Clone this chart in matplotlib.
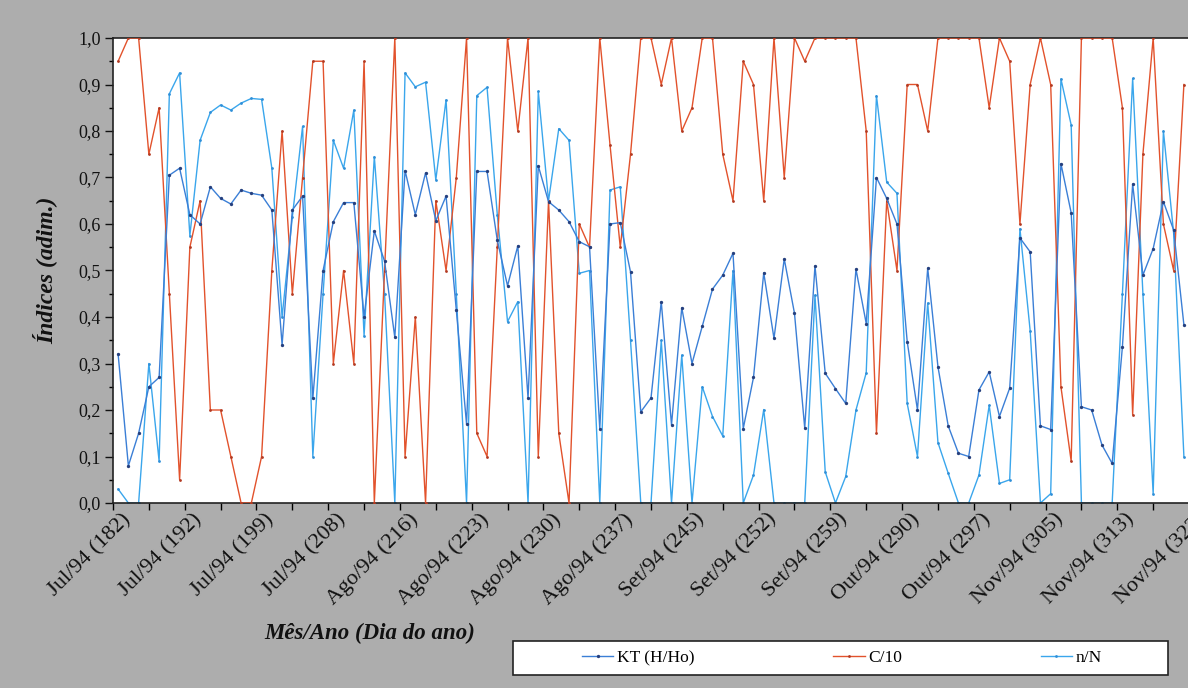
import matplotlib
matplotlib.use("Agg")
import matplotlib.pyplot as plt
from matplotlib.ticker import MultipleLocator, FuncFormatter, FixedLocator
from matplotlib.patches import Rectangle
import numpy as np

# ---------------- data ----------------
tick_labels = ["Jul/94 (182)", "Jul/94 (192)", "Jul/94 (199)", "Jul/94 (208)",
               "Ago/94 (216)", "Ago/94 (223)", "Ago/94 (230)", "Ago/94 (237)",
               "Set/94 (245)", "Set/94 (252)", "Set/94 (259)", "Out/94 (290)",
               "Out/94 (297)", "Nov/94 (305)", "Nov/94 (313)", "Nov/94 (322)"]
label_step = 7

kt = [0.32, 0.08, 0.15, 0.25, 0.27, 0.705, 0.72, 0.62, 0.60, 0.68,
      0.655, 0.643, 0.673, 0.666, 0.662, 0.63, 0.34, 0.63, 0.66, 0.225,
      0.50, 0.605, 0.646, 0.646, 0.40, 0.585, 0.52, 0.356, 0.715, 0.62,
      0.71, 0.607, 0.66, 0.415, 0.17, 0.713, 0.713, 0.565, 0.467, 0.553,
      0.225, 0.725, 0.648, 0.63, 0.605, 0.562, 0.551, 0.16, 0.60, 0.603,
      0.497, 0.196, 0.226, 0.433, 0.168, 0.42, 0.30, 0.38, 0.46, 0.49,
      0.537, 0.16, 0.27, 0.495, 0.354, 0.525, 0.408, 0.161, 0.51, 0.279,
      0.246, 0.214, 0.503, 0.386, 0.70, 0.655, 0.60, 0.347, 0.20, 0.505,
      0.293, 0.166, 0.107, 0.10, 0.243, 0.282, 0.186, 0.247, 0.57, 0.54,
      0.166, 0.158, 0.73, 0.624, 0.207, 0.20, 0.125, 0.085, 0.336, 0.686,
      0.49, 0.547, 0.648, 0.587, 0.383]

c10 = [0.95, 1.0, 1.0, 0.75, 0.85, 0.45, 0.05, 0.55, 0.65, 0.20,
       0.20, 0.10, 0.0, 0.0, 0.10, 0.50, 0.80, 0.45, 0.70, 0.95,
       0.95, 0.30, 0.50, 0.30, 0.95, 0.0, 0.50, 1.0, 0.10, 0.40,
       0.0, 0.65, 0.50, 0.70, 1.0, 0.15, 0.10, 0.55, 1.0, 0.80,
       1.0, 0.10, 0.65, 0.15, 0.0, 0.60, 0.55, 1.0, 0.77, 0.55,
       0.75, 1.0, 1.0, 0.90, 1.0, 0.80, 0.85, 1.0, 1.0, 0.75,
       0.65, 0.95, 0.90, 0.65, 1.0, 0.70, 1.0, 0.95, 1.0, 1.0,
       1.0, 1.0, 1.0, 0.80, 0.15, 0.65, 0.50, 0.90, 0.90, 0.80,
       1.0, 1.0, 1.0, 1.0, 1.0, 0.85, 1.0, 0.95, 0.60, 0.90,
       1.0, 0.90, 0.25, 0.09, 1.0, 1.0, 1.0, 1.0, 0.85, 0.19,
       0.75, 1.0, 0.60, 0.50, 0.90]

nN = [0.03, 0.0, 0.0, 0.30, 0.09, 0.88, 0.925, 0.575, 0.78, 0.84,
      0.856, 0.845, 0.86, 0.87, 0.868, 0.72, 0.40, 0.615, 0.81, 0.10,
      0.45, 0.78, 0.72, 0.845, 0.36, 0.745, 0.45, 0.0, 0.925, 0.895,
      0.905, 0.695, 0.867, 0.45, 0.0, 0.876, 0.894, 0.62, 0.39, 0.433,
      0.0, 0.885, 0.65, 0.805, 0.78, 0.494, 0.50, 0.0, 0.673, 0.68,
      0.35, 0.0, 0.0, 0.35, 0.0, 0.318, 0.0, 0.25, 0.186, 0.144,
      0.50, 0.0, 0.06, 0.201, 0.0, 0.0, 0.0, 0.0, 0.447, 0.067,
      0.0, 0.057, 0.20, 0.28, 0.876, 0.69, 0.666, 0.214, 0.10, 0.43,
      0.13, 0.064, 0.0, 0.0, 0.06, 0.21, 0.042, 0.05, 0.59, 0.37,
      0.0, 0.02, 0.912, 0.813, 0.0, 0.0, 0.0, 0.0, 0.45, 0.913,
      0.45, 0.02, 0.80, 0.58, 0.10]

# ---------------- figure ----------------
W, H = 1188, 688
fig = plt.figure(figsize=(W / 100, H / 100), dpi=100, facecolor="#adadad")
serif = ["Liberation Serif", "DejaVu Serif"]
plt.rcParams["font.family"] = serif

ax = fig.add_axes([113 / W, 1 - 503 / H, 1 - 113 / W, (503 - 38) / H])
ax.set_facecolor("white")

x = np.arange(len(kt))
c_kt = "#3b7fd6"
c_c10 = "#e2522c"
c_nn = "#3aa6ec"

ax.plot(x, nN, color=c_nn, lw=1.0, marker="o", ms=2.0, mfc="#2f8fd8", mec="none",
        label="n/N", zorder=2)
ax.plot(x, c10, color=c_c10, lw=1.0, marker="o", ms=2.0, mfc="#b23a22", mec="none",
        label="C/10", zorder=3)
ax.plot(x, kt, color=c_kt, lw=1.0, marker="o", ms=2.4, mfc="#26407e", mec="none",
        label="KT (H/Ho)", zorder=4)

ax.set_xlim(-0.5, 104.4)
ax.set_ylim(0, 1.0)

for s in ["top", "left", "bottom"]:
    ax.spines[s].set_color("#222222")
    ax.spines[s].set_linewidth(1.2)
ax.spines["right"].set_visible(False)

ax.yaxis.set_major_locator(MultipleLocator(0.1))
ax.yaxis.set_minor_locator(MultipleLocator(0.05))
ax.yaxis.set_major_formatter(FuncFormatter(lambda v, p: f"{v:.1f}".replace(".", ",")))
ax.tick_params(axis="y", which="major", direction="out", length=6, width=1,
               labelsize=13, pad=3, colors="#111111")
ax.tick_params(axis="y", which="minor", direction="out", length=3, width=1)

ax.xaxis.set_major_locator(FixedLocator(np.arange(-0.5, 105, 3.5)))
ax.tick_params(axis="x", which="major", direction="out", length=5, width=1,
               labelbottom=False)

for k, lab in enumerate(tick_labels):
    ax.annotate(lab, xy=(k * label_step, 0), xycoords=("data", "axes fraction"),
                xytext=(2, -5), textcoords="offset points", rotation=45,
                ha="right", va="top", rotation_mode="anchor", fontsize=16,
                color="#111111", annotation_clip=False)

fig.text(45 / W, 1 - 270 / H, "Índices (adim.)", rotation=90, ha="center", va="center",
         fontsize=17, fontweight="bold", fontstyle="italic", color="#111111")
fig.text(370 / W, 1 - 633 / H, "Mês/Ano (Dia do ano)", ha="center", va="center",
         fontsize=16.5, fontweight="bold", fontstyle="italic", color="#111111")

# legend box
fig.patches.append(Rectangle((513 / W, 1 - 675 / H), (1168 - 513) / W, (675 - 641) / H,
                             transform=fig.transFigure, facecolor="white",
                             edgecolor="#222222", lw=1.2, zorder=1))
h, l = ax.get_legend_handles_labels()
order = [2, 1, 0]
leg = fig.legend([h[i] for i in order], [l[i] for i in order], ncol=3,
                 loc="center", bbox_to_anchor=(842 / W, 1 - 658 / H),
                 frameon=False, fontsize=12.5, handlelength=1.8, handletextpad=0.2,
                 columnspacing=8.0, borderpad=0.2)
leg.set_zorder(5)

fig.savefig("out.png", dpi=100, facecolor=fig.get_facecolor())
